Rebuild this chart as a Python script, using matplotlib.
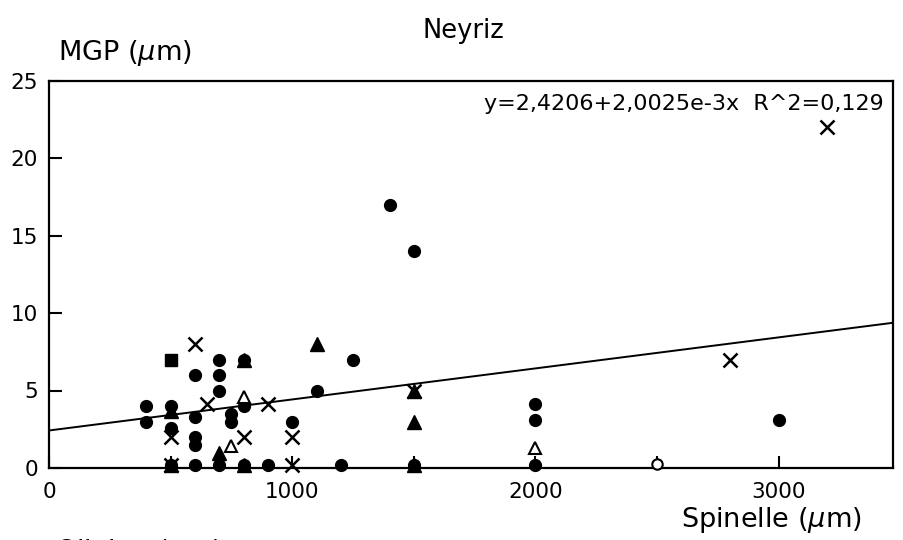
import numpy as np
import matplotlib.pyplot as plt

# spinelle size (um) vs MGP (um), Neyriz samples, grouped by symbol
circ_x = [400, 400, 500, 500, 500, 600, 600, 600, 600, 600, 700, 700, 700, 700,
          750, 750, 800, 800, 800, 900, 1000, 1100, 1200, 1250, 1400, 1500, 1500,
          2000, 2000, 2000, 3000]
circ_y = [4.0, 3.0, 4.0, 2.6, 0.2, 6.0, 3.3, 2.0, 1.5, 0.2, 7.0, 6.0, 5.0, 0.2,
          3.5, 3.0, 7.0, 4.0, 0.2, 0.2, 3.0, 5.0, 0.2, 7.0, 17.0, 14.0, 0.2,
          4.1, 3.1, 0.2, 3.1]

tri_x = [500, 500, 700, 800, 800, 1100, 1500, 1500, 1500]
tri_y = [3.7, 0.2, 1.0, 7.0, 0.2, 8.0, 5.0, 3.0, 0.2]

otri_x = [750, 800, 2000]
otri_y = [1.4, 4.6, 1.3]

cross_x = [500, 500, 600, 650, 800, 900, 1000, 1000, 1500, 2800, 3200]
cross_y = [2.0, 0.2, 8.0, 4.1, 2.0, 4.1, 2.0, 0.2, 5.0, 7.0, 22.0]

sq_x = [500]
sq_y = [7.0]

ocirc_x = [2500]
ocirc_y = [0.25]

# linear fit reported on the plot
a0 = 2.4206
a1 = 2.0025e-3
xfit = [0, 3470]

plt.rcParams['font.family'] = 'DejaVu Sans'

fig = plt.figure(figsize=(9.04, 5.4), dpi=100)
ax = fig.add_axes([49/904, 1-468/540, (893-49)/904, (468-80.5)/540])

ax.plot(xfit, [a0 + a1*x for x in xfit], color='black', lw=1.4, zorder=2)

ms = 8.5
ax.plot(circ_x, circ_y, 'o', color='black', ms=ms, zorder=3, clip_on=False)
ax.plot(tri_x, tri_y, '^', color='black', ms=ms+1, zorder=4, clip_on=False)
ax.plot(otri_x, otri_y, '^', mfc='white', mec='black', mew=1.5, ms=ms, zorder=4, clip_on=False)
ax.plot(cross_x, cross_y, 'x', color='black', ms=ms+1.5, mew=1.8, zorder=4, clip_on=False)
ax.plot(sq_x, sq_y, 's', color='black', ms=ms-0.5, zorder=3, clip_on=False)
ax.plot(ocirc_x, ocirc_y, 'o', mfc='white', mec='black', mew=1.5, ms=ms-1, zorder=4, clip_on=False)

ax.set_xlim(0, 3470)
ax.set_ylim(0, 25)
ax.set_xticks([0, 1000, 2000, 3000])
ax.set_xticks([500, 1500, 2500], minor=True)
ax.set_yticks([0, 5, 10, 15, 20, 25])
ax.tick_params(axis='both', which='both', direction='in', length=9, width=1.5,
               labelsize=15.5)
ax.tick_params(axis='y', pad=8)
ax.tick_params(axis='x', pad=10)
for s in ax.spines.values():
    s.set_linewidth(1.6)

ax.text(0.9885, 0.965, 'y=2,4206+2,0025e-3x  R^2=0,129', transform=ax.transAxes,
        ha='right', va='top', fontsize=16)

fig.text(463/904, 1-38/540, 'Neyriz', ha='center', va='baseline', fontsize=18.5)
fig.text(58/904, 1-60/540, r'MGP ($\mu$m)', ha='left', va='baseline', fontsize=19.5)
fig.text(771/904, 1-527/540, r'Spinelle ($\mu$m)', ha='center', va='baseline', fontsize=19.5)
# label of the next panel, cut off at the bottom edge
fig.text(55/904, -19/540, r'Olivine ($\mu$m)', ha='left', va='baseline', fontsize=19.5)

fig.savefig('out.png', dpi=100)
